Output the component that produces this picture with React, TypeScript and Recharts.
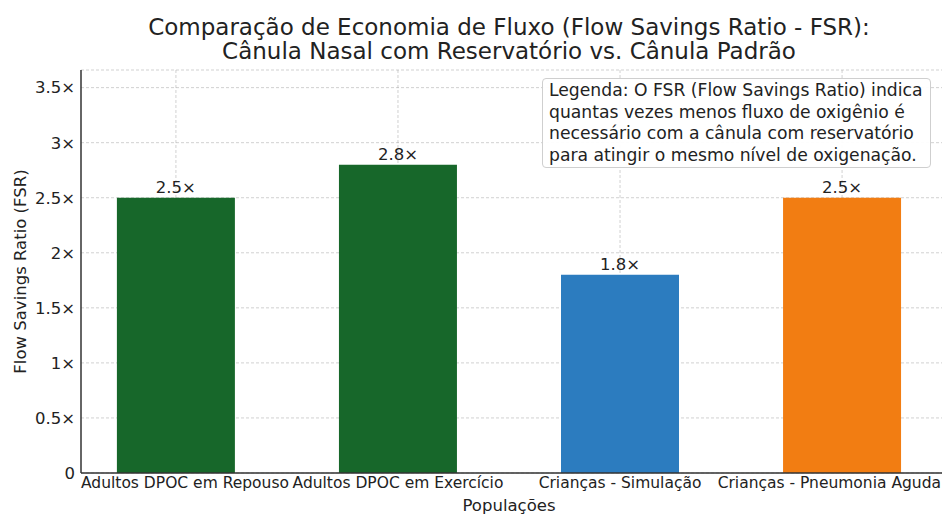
import { BarChart, Bar, XAxis, YAxis, CartesianGrid, Cell, LabelList } from "recharts";

const categories = [
  "Adultos DPOC em Repouso",
  "Adultos DPOC em Exercício",
  "Crianças - Simulação",
  "Crianças - Pneumonia Aguda",
];
const fsrValues = [2.5, 2.8, 1.8, 2.5];
const barColors = ["#17672a", "#17672a", "#2c7cbf", "#f27d12"];
const yTicks = [0, 0.5, 1, 1.5, 2, 2.5, 3, 3.5];

const data = categories.map((name, i) => ({ idx: i, name, fsr: fsrValues[i] }));

const font = "'DejaVu Sans', sans-serif";
const fmtX = (v: number) => (v === 0 ? "0" : `${v}×`);

// keep the outer labels inside the figure, like the original does
const CategoryTick = (props: any) => {
  const { x, y, payload, index } = props;
  let anchor = "middle";
  let tx = x;
  if (index === 0) {
    anchor = "start";
    tx = 81;
  } else if (index === categories.length - 1) {
    anchor = "end";
    tx = 941;
  }
  return (
    <text x={tx} y={y} dy={12} textAnchor={anchor} fill="#222" fontSize={15.5}>
      {categories[payload.value]}
    </text>
  );
};

const App = () => {
  return (
    <div
      style={{
        position: "fixed",
        top: 0,
        left: 0,
        width: 942,
        height: 516,
        overflow: "hidden",
        background: "#fff",
        fontFamily: font,
      }}
    >
      <div
        style={{
          position: "absolute",
          top: 15,
          left: 0,
          width: 1018,
          textAlign: "center",
          fontSize: 23,
          lineHeight: "24px",
          color: "#222",
        }}
      >
        Comparação de Economia de Fluxo (Flow Savings Ratio - FSR):
        <br />
        Cânula Nasal com Reservatório vs. Cânula Padrão
      </div>
      <BarChart
        width={942}
        height={516}
        data={data}
        margin={{ top: 70, right: 0, left: 0, bottom: 0 }}
        style={{ fontFamily: font }}
      >
        <XAxis
          dataKey="idx"
          type="number"
          domain={[-0.4275, 3.45]}
          ticks={[0, 1, 2, 3]}
          interval={0}
          allowDataOverflow
          height={43}
          tickLine={false}
          tickSize={0}
          tickMargin={3}
          axisLine={{ stroke: "#333", strokeWidth: 1.5 }}
          tick={<CategoryTick />}
        />
        <YAxis
          type="number"
          domain={[0, 3.66]}
          ticks={yTicks}
          allowDataOverflow
          width={81}
          tickLine={false}
          tickSize={2}
          tickMargin={4}
          tickFormatter={fmtX}
          axisLine={{ stroke: "#333", strokeWidth: 1.5 }}
          tick={{ fill: "#222", fontSize: 16.5 }}
          label={{
            value: "Flow Savings Ratio (FSR)",
            angle: -90,
            position: "insideLeft",
            offset: 20,
            style: { textAnchor: "middle" },
            fill: "#222",
            fontSize: 16.5,
          }}
        />
        <Bar dataKey="fsr" barSize={118} isAnimationActive={false}>
          {data.map((d, i) => (
            <Cell key={d.name} fill={barColors[i]} />
          ))}
          <LabelList
            dataKey="fsr"
            position="top"
            offset={5}
            formatter={(v: number) => `${v}×`}
            style={{ fill: "#222", fontSize: 16.5 }}
          />
        </Bar>
        <CartesianGrid
          stroke="#9a9a9a"
          strokeOpacity={0.45}
          strokeDasharray="3 2"
          verticalValues={[0, 1, 2, 3]}
        />
      </BarChart>
      <div
        style={{
          position: "absolute",
          top: 496,
          left: 0,
          width: 1018,
          textAlign: "center",
          fontSize: 16.5,
          lineHeight: "19px",
          color: "#222",
        }}
      >
        Populações
      </div>
      <div
        style={{
          position: "absolute",
          left: 542,
          top: 78,
          padding: "1px 8px 1px 6px",
          border: "1px solid #cfcfcf",
          borderRadius: 4,
          background: "rgba(255,255,255,0.95)",
          fontSize: 17.2,
          lineHeight: "21.5px",
          color: "#222",
          whiteSpace: "nowrap",
        }}
      >
        Legenda: O FSR (Flow Savings Ratio) indica
        <br />
        quantas vezes menos fluxo de oxigênio é
        <br />
        necessário com a cânula com reservatório
        <br />
        para atingir o mesmo nível de oxigenação.
      </div>
    </div>
  );
};

export default App;
